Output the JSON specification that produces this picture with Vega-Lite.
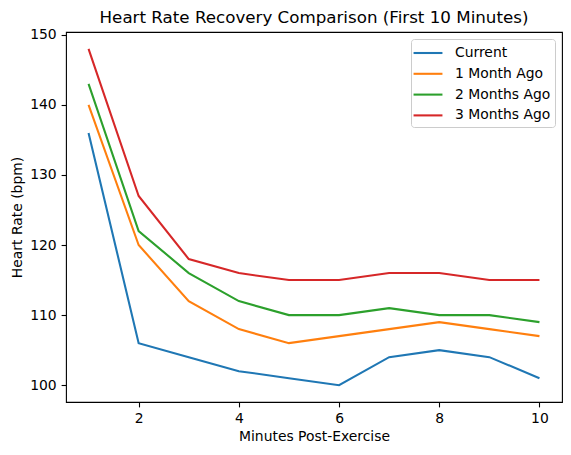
{
  "$schema": "https://vega.github.io/schema/vega-lite/v6.json",
  "width": 496,
  "height": 370,
  "autosize": {"type": "none"},
  "padding": {"left": 66, "top": 32, "right": 9, "bottom": 53},
  "background": "white",
  "title": {
    "text": "Heart Rate Recovery Comparison (First 10 Minutes)",
    "font": "DejaVu Sans",
    "fontSize": 16.7,
    "fontWeight": "normal",
    "color": "black",
    "anchor": "middle",
    "offset": 1
  },
  "data": {
    "values": [
      {"minute": 1, "hr": 136, "series": "Current"},
      {"minute": 2, "hr": 106, "series": "Current"},
      {"minute": 3, "hr": 104, "series": "Current"},
      {"minute": 4, "hr": 102, "series": "Current"},
      {"minute": 5, "hr": 101, "series": "Current"},
      {"minute": 6, "hr": 100, "series": "Current"},
      {"minute": 7, "hr": 104, "series": "Current"},
      {"minute": 8, "hr": 105, "series": "Current"},
      {"minute": 9, "hr": 104, "series": "Current"},
      {"minute": 10, "hr": 101, "series": "Current"},
      {"minute": 1, "hr": 140, "series": "1 Month Ago"},
      {"minute": 2, "hr": 120, "series": "1 Month Ago"},
      {"minute": 3, "hr": 112, "series": "1 Month Ago"},
      {"minute": 4, "hr": 108, "series": "1 Month Ago"},
      {"minute": 5, "hr": 106, "series": "1 Month Ago"},
      {"minute": 6, "hr": 107, "series": "1 Month Ago"},
      {"minute": 7, "hr": 108, "series": "1 Month Ago"},
      {"minute": 8, "hr": 109, "series": "1 Month Ago"},
      {"minute": 9, "hr": 108, "series": "1 Month Ago"},
      {"minute": 10, "hr": 107, "series": "1 Month Ago"},
      {"minute": 1, "hr": 143, "series": "2 Months Ago"},
      {"minute": 2, "hr": 122, "series": "2 Months Ago"},
      {"minute": 3, "hr": 116, "series": "2 Months Ago"},
      {"minute": 4, "hr": 112, "series": "2 Months Ago"},
      {"minute": 5, "hr": 110, "series": "2 Months Ago"},
      {"minute": 6, "hr": 110, "series": "2 Months Ago"},
      {"minute": 7, "hr": 111, "series": "2 Months Ago"},
      {"minute": 8, "hr": 110, "series": "2 Months Ago"},
      {"minute": 9, "hr": 110, "series": "2 Months Ago"},
      {"minute": 10, "hr": 109, "series": "2 Months Ago"},
      {"minute": 1, "hr": 148, "series": "3 Months Ago"},
      {"minute": 2, "hr": 127, "series": "3 Months Ago"},
      {"minute": 3, "hr": 118, "series": "3 Months Ago"},
      {"minute": 4, "hr": 116, "series": "3 Months Ago"},
      {"minute": 5, "hr": 115, "series": "3 Months Ago"},
      {"minute": 6, "hr": 115, "series": "3 Months Ago"},
      {"minute": 7, "hr": 116, "series": "3 Months Ago"},
      {"minute": 8, "hr": 116, "series": "3 Months Ago"},
      {"minute": 9, "hr": 115, "series": "3 Months Ago"},
      {"minute": 10, "hr": 115, "series": "3 Months Ago"}
    ]
  },
  "mark": {"type": "line", "strokeWidth": 2.08, "clip": true},
  "encoding": {
    "x": {
      "field": "minute",
      "type": "quantitative",
      "scale": {"domain": [0.55, 10.45], "nice": false, "zero": false},
      "axis": {"values": [2, 4, 6, 8, 10], "title": "Minutes Post-Exercise", "titlePadding": 4}
    },
    "y": {
      "field": "hr",
      "type": "quantitative",
      "scale": {"domain": [97.6, 150.4], "nice": false, "zero": false},
      "axis": {"values": [100, 110, 120, 130, 140, 150], "title": "Heart Rate (bpm)", "titlePadding": 5}
    },
    "color": {
      "field": "series",
      "type": "nominal",
      "sort": ["Current", "1 Month Ago", "2 Months Ago", "3 Months Ago"],
      "scale": {
        "domain": ["Current", "1 Month Ago", "2 Months Ago", "3 Months Ago"],
        "range": ["#1f77b4", "#ff7f0e", "#2ca02c", "#d62728"]
      },
      "legend": {
        "title": null,
        "orient": "none",
        "legendX": 345,
        "legendY": 7,
        "symbolType": "M-1.7,0H1.7",
        "symbolSize": 289,
        "symbolStrokeWidth": 2.08,
        "symbolOffset": 3,
        "labelOffset": 17,
        "rowPadding": 3.8,
        "padding": 4,
        "strokeColor": "#cccccc",
        "fillColor": "rgba(255,255,255,0.8)",
        "cornerRadius": 3,
        "labelFont": "DejaVu Sans",
        "labelFontSize": 13.9,
        "labelColor": "black"
      }
    }
  },
  "config": {
    "font": "DejaVu Sans",
    "view": {"stroke": "black", "strokeWidth": 1.1},
    "axis": {
      "grid": false,
      "domain": false,
      "tickColor": "black",
      "tickSize": 4.9,
      "tickWidth": 1.1,
      "labelPadding": 4.9,
      "labelFont": "DejaVu Sans",
      "labelFontSize": 13.9,
      "labelColor": "black",
      "titleFont": "DejaVu Sans",
      "titleFontSize": 13.9,
      "titleFontWeight": "normal",
      "titleColor": "black"
    }
  }
}
